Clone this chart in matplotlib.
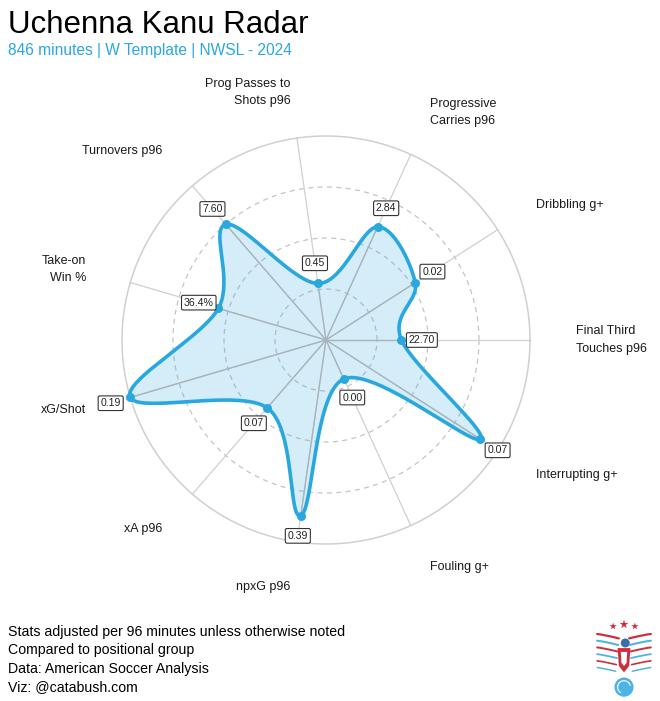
import numpy as np
import matplotlib
matplotlib.use("Agg")
import matplotlib.pyplot as plt
from matplotlib.patches import Circle, Polygon

# ---------------- data ----------------
metrics = ["Final Third\nTouches p96", "Dribbling g+", "Progressive\nCarries p96",
           "Prog Passes to\nShots p96", "Turnovers p96", "Take-on\nWin %", "xG/Shot",
           "xA p96", "npxG p96", "Fouling g+", "Interrupting g+"]
percentiles = [37, 52, 61, 28, 75, 55, 100, 44, 87, 21, 90]
value_labels = ["22.70", "0.02", "2.84", "0.45", "7.60", "36.4%", "0.19",
                "0.07", "0.39", "0.00", "0.07"]

title = "Uchenna Kanu Radar"
subtitle = "846 minutes | W Template | NWSL - 2024"
caption = ["Stats adjusted per 96 minutes unless otherwise noted",
           "Compared to positional group",
           "Data: American Soccer Analysis",
           "Viz: @catabush.com"]

BLUE = "#29a8e0"
FONT = "Liberation Sans"
plt.rcParams['font.family'] = [FONT, 'DejaVu Sans']

W, H, DPI = 660, 701, 100
fig = plt.figure(figsize=(W / DPI, H / DPI), dpi=DPI)
fig.patch.set_facecolor("white")

# axes spanning the whole figure, 1 data unit = outer radius (204 px)
R = 204.0
cx, cy = 326.0, 340.0
ax = fig.add_axes([0, 0, 1, 1])
ax.set_xlim(-cx / R, (W - cx) / R)
ax.set_ylim((cy - H) / R, cy / R)
ax.set_aspect("equal")
ax.axis("off")

n = len(metrics)
angles = np.arange(n) * 2 * np.pi / n
r = np.array(percentiles) / 100.0
px = r * np.cos(angles)
py = r * np.sin(angles)

# grid
t = np.linspace(0, 2 * np.pi, 400)
for rr in [0.25, 0.5, 0.75]:
    ax.plot(rr * np.cos(t), rr * np.sin(t), color="#c4c4c4", lw=0.9,
            ls=(0, (4, 3.5)), zorder=1)
ax.plot(np.cos(t), np.sin(t), color="#d0d0d0", lw=1.1, zorder=1)
for a in angles:
    ax.plot([0, np.cos(a)], [0, np.sin(a)], color="#d0d0d0", lw=0.9, zorder=1)


# closed Catmull-Rom spline
def catmull_closed(x, y, steps=40):
    pts = np.column_stack([x, y])
    m = len(pts)
    out = []
    for i in range(m):
        p0, p1, p2, p3 = pts[(i - 1) % m], pts[i], pts[(i + 1) % m], pts[(i + 2) % m]
        s = np.linspace(0, 1, steps, endpoint=False)[:, None]
        seg = 0.5 * ((2 * p1) + (-p0 + p2) * s + (2 * p0 - 5 * p1 + 4 * p2 - p3) * s ** 2
                     + (-p0 + 3 * p1 - 3 * p2 + p3) * s ** 3)
        out.append(seg)
    out = np.vstack(out)
    return np.vstack([out, out[:1]])


curve = catmull_closed(px, py)
ax.add_patch(Polygon(curve, closed=True, facecolor=BLUE, alpha=0.2, edgecolor="none", zorder=2))
for x_, y_ in zip(px, py):
    ax.plot([0, x_], [0, y_], color="#a9b3b8", lw=0.9, zorder=3)
ax.plot(curve[:, 0], curve[:, 1], color=BLUE, lw=2.6, zorder=4, solid_capstyle="round")
ax.scatter(px, py, s=42, color=BLUE, zorder=5, linewidths=0)

# value labels
for a, rr, lab in zip(angles, r, value_labels):
    lr = rr + 0.1
    ax.text(lr * np.cos(a), lr * np.sin(a), lab, ha="center", va="center",
            fontsize=7.6, color="#222222", zorder=6,
            bbox=dict(boxstyle="round,pad=0.22,rounding_size=0.15", fc="white",
                      ec="#333333", lw=0.8))

# metric labels
LR = 1.225
for a, lab in zip(angles, metrics):
    c = np.cos(a)
    ha = "left" if c > 0 else "right"
    ax.text(LR * c, LR * np.sin(a), lab, ha=ha, va="center", multialignment=ha,
            fontsize=9, color="#1a1a1a", linespacing=1.6, zorder=6)

# titles and caption
def fy(py_top):
    return 1 - py_top / H

fig.text(8 / W, fy(33), title, fontsize=22.5, color="black", va="baseline", ha="left")
fig.text(8 / W, fy(55), subtitle, fontsize=11.2, color=BLUE, va="baseline", ha="left")
for i, line in enumerate(caption):
    fig.text(8 / W, fy(636 + i * 18.4), line, fontsize=10.2, color="black",
             va="baseline", ha="left")

# simplified logo
lax = fig.add_axes([592 / W, 1 - 698 / H, 64 / W, 80 / H])
lax.set_xlim(0, 1)
lax.set_ylim(0, 1.25)
lax.set_aspect("equal")
lax.axis("off")
RED = "#cf2e3c"
LB = "#4fb3e6"
lax.scatter([0.33, 0.5, 0.67], [1.12, 1.15, 1.12], marker="*", s=[30, 45, 30],
            color=RED, linewidths=0)
for side in (-1, 1):
    for k in range(6):
        col = RED if k % 2 == 0 else LB
        y0 = 1.0 - k * 0.085
        xs = np.linspace(0.08, 0.42 - k * 0.01, 20)
        ys = y0 - 0.25 * (xs - 0.08) ** 1.2 - 0.02 * k
        xx = 0.5 + side * (0.5 - xs)
        lax.plot(xx, ys, color=col, lw=1.6 - 0.1 * k, solid_capstyle="round")
# eagle body
lax.add_patch(Polygon([[0.4, 0.78], [0.6, 0.78], [0.58, 0.5], [0.5, 0.4], [0.42, 0.5]],
                      closed=True, fc=RED, ec="none"))
lax.add_patch(Polygon([[0.45, 0.72], [0.55, 0.72], [0.54, 0.55], [0.5, 0.5], [0.46, 0.55]],
                      closed=True, fc="white", ec="none"))
lax.add_patch(Circle((0.52, 0.86), 0.07, fc="#3a6ea8", ec="none"))
lax.add_patch(Circle((0.5, 0.17), 0.15, fc=LB, ec="none"))
for a0 in (0.3, 1.6, 2.9):
    tt = np.linspace(a0, a0 + 1.2, 20)
    lax.plot(0.5 + 0.1 * np.cos(tt), 0.17 + 0.1 * np.sin(tt), color="white", lw=0.8)

fig.savefig("out.png", dpi=DPI, facecolor="white")
